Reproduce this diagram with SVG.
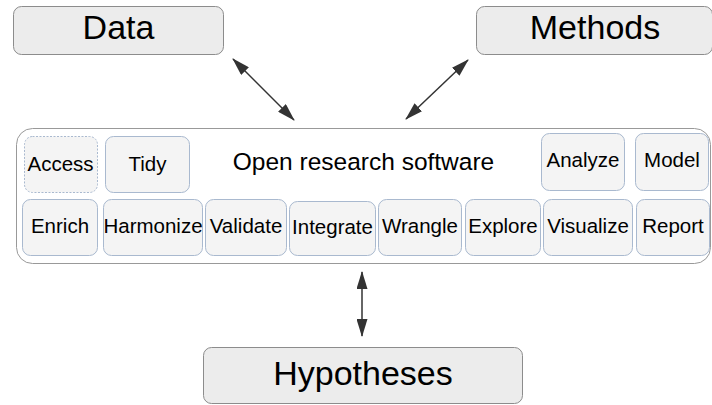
<svg xmlns="http://www.w3.org/2000/svg" width="712" height="405" viewBox="0 0 712 405">
<defs>
<style>
.big{fill:#ececec;stroke:#8c8c8c;stroke-width:1}
.sm{fill:#f4f4f4;stroke:#a9b9cf;stroke-width:1}
.dot{stroke-dasharray:2,1.5}
.bt{font-family:"Liberation Sans",Arial,sans-serif;font-size:34px;fill:#000;text-anchor:middle}
.st{font-family:"Liberation Sans",Arial,sans-serif;font-size:20.5px;fill:#000;text-anchor:middle}
.tt{font-family:"Liberation Sans",Arial,sans-serif;font-size:24.5px;fill:#000;text-anchor:middle}
.con{stroke:#333;stroke-width:1.5;fill:none;marker-start:url(#ah);marker-end:url(#ah)}
</style>
<marker id="ah" viewBox="0 0 18 11" refX="17" refY="5.5" markerWidth="18" markerHeight="11" markerUnits="userSpaceOnUse" orient="auto-start-reverse">
<path d="M0,0 L18,5.5 L0,11 Z" fill="#333"/>
</marker>
</defs>
<g id="data"><rect class="big" x="13.5" y="6.5" width="210" height="48" rx="8"/><text class="bt" x="118.5" y="39">Data</text></g>
<g id="methods"><rect class="big" x="476.5" y="6.5" width="236" height="48" rx="8"/><text class="bt" x="595" y="39">Methods</text></g>
<g id="hypotheses"><rect class="big" x="203.5" y="347.5" width="319" height="56" rx="8"/><text class="bt" x="363" y="385">Hypotheses</text></g>
<g id="software">
<rect x="16.5" y="128.5" width="694" height="135" rx="16" fill="#fff" stroke="#999" stroke-width="1"/>
<text class="tt" x="363.5" y="169.5">Open research software</text>
</g>
<g id="access"><rect class="sm dot" x="24.5" y="136.5" width="73" height="56" rx="8"/><text class="st" x="60.5" y="170.5">Access</text></g>
<g id="tidy"><rect class="sm" x="105.5" y="136.5" width="84" height="56" rx="8"/><text class="st" x="147.5" y="170.5">Tidy</text></g>
<g id="analyze"><rect class="sm" x="541.5" y="133.5" width="83" height="57" rx="8"/><text class="st" x="583" y="167">Analyze</text></g>
<g id="model"><rect class="sm" x="635.5" y="133.5" width="73" height="57" rx="8"/><text class="st" x="672" y="167">Model</text></g>
<g id="enrich"><rect class="sm" x="22.5" y="199.5" width="75" height="56" rx="8"/><text class="st" x="60" y="232.5">Enrich</text></g>
<g id="harmonize"><rect class="sm" x="103.5" y="199.5" width="99" height="56" rx="8"/><text class="st" x="153" y="232.5">Harmonize</text></g>
<g id="validate"><rect class="sm" x="205.5" y="199.5" width="81" height="56" rx="8"/><text class="st" x="246" y="232.5">Validate</text></g>
<g id="integrate"><rect class="sm" x="289.5" y="201.5" width="86" height="54" rx="8"/><text class="st" x="332.5" y="233.5">Integrate</text></g>
<g id="wrangle"><rect class="sm" x="378.5" y="199.5" width="83" height="56" rx="8"/><text class="st" x="420" y="232.5">Wrangle</text></g>
<g id="explore"><rect class="sm" x="465.5" y="199.5" width="75" height="56" rx="8"/><text class="st" x="503" y="232.5">Explore</text></g>
<g id="visualize"><rect class="sm" x="543.5" y="199.5" width="89" height="56" rx="8"/><text class="st" x="588" y="232.5">Visualize</text></g>
<g id="report"><rect class="sm" x="636.5" y="199.5" width="73" height="56" rx="8"/><text class="st" x="673" y="232.5">Report</text></g>
<g id="connectors">
<line class="con" x1="233" y1="59" x2="294" y2="120"/>
<line class="con" x1="468" y1="60" x2="406" y2="119"/>
<line class="con" x1="362" y1="272" x2="362" y2="336"/>
</g>
</svg>
